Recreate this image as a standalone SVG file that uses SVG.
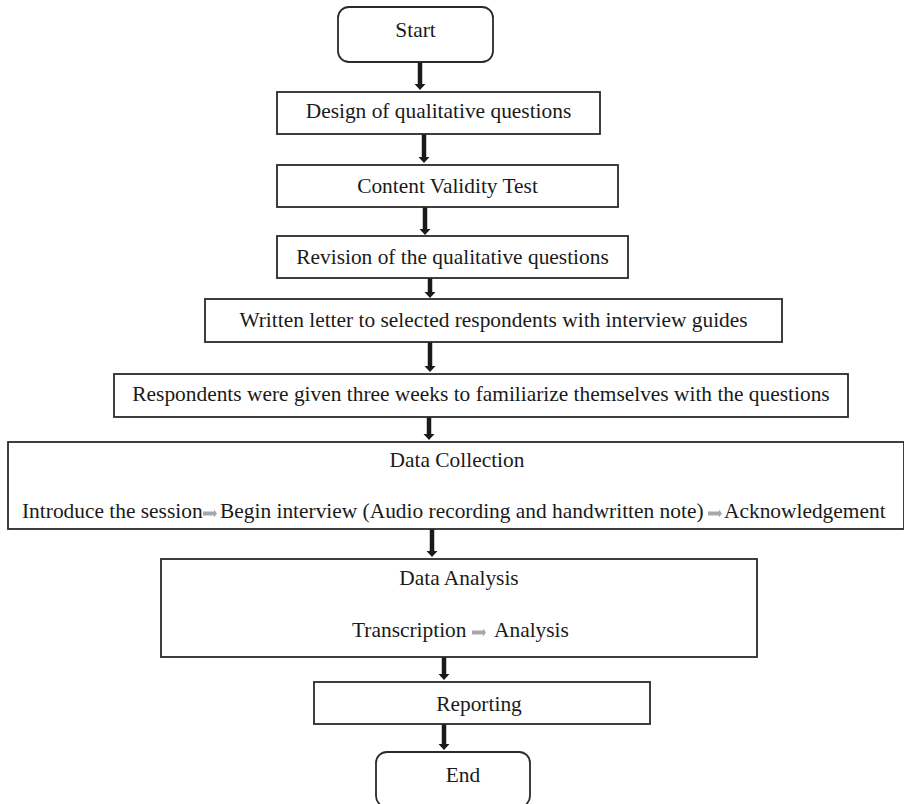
<svg xmlns="http://www.w3.org/2000/svg" width="904" height="804" viewBox="0 0 904 804">
<defs>
<style>
.box{fill:#fff;stroke:#2a2a2a;stroke-width:1.8}
.t{font-family:"Liberation Serif","Times New Roman",serif;font-size:21.4px;fill:#1a1a1a}
.c{text-anchor:middle}
.conn{stroke:#1a1a1a;stroke-width:4.5;fill:none}
.garrow{fill:#a8a8a8}
</style>
<marker id="ah" markerUnits="userSpaceOnUse" markerWidth="8" markerHeight="12" refX="1" refY="5.5" orient="auto">
<path d="M0,0 L6,5.5 L0,11 z" fill="#1a1a1a"/>
</marker>
<symbol id="ga" overflow="visible">
<path d="M0,-2 L11,-2 L11,-4 L14,0 L11,4 L11,2 L0,2 z"/>
</symbol>
</defs>
<rect width="904" height="804" fill="#fff"/>

<g id="connectors">
<line class="conn" x1="420" y1="62" x2="420" y2="85" marker-end="url(#ah)"/>
<line class="conn" x1="424" y1="134" x2="424" y2="158" marker-end="url(#ah)"/>
<line class="conn" x1="425" y1="207" x2="425" y2="230" marker-end="url(#ah)"/>
<line class="conn" x1="430" y1="278" x2="430" y2="293" marker-end="url(#ah)"/>
<line class="conn" x1="430" y1="342" x2="430" y2="367" marker-end="url(#ah)"/>
<line class="conn" x1="429" y1="417" x2="429" y2="435" marker-end="url(#ah)"/>
<line class="conn" x1="432" y1="529" x2="432" y2="552" marker-end="url(#ah)"/>
<line class="conn" x1="444" y1="657" x2="444" y2="675" marker-end="url(#ah)"/>
<line class="conn" x1="444" y1="724" x2="444" y2="745" marker-end="url(#ah)"/>
</g>

<g id="start">
<rect class="box" x="338" y="7" width="155" height="55" rx="11"/>
<text class="t c" x="415.5" y="37">Start</text>
</g>
<g id="design">
<rect class="box" x="277" y="92" width="323" height="42"/>
<text class="t c" x="438.5" y="118">Design of qualitative questions</text>
</g>
<g id="validity">
<rect class="box" x="277" y="165" width="341" height="42"/>
<text class="t c" x="447.5" y="193">Content Validity Test</text>
</g>
<g id="revision">
<rect class="box" x="277" y="236" width="351" height="42"/>
<text class="t c" x="452.5" y="264">Revision of the qualitative questions</text>
</g>
<g id="letter">
<rect class="box" x="205" y="299" width="577" height="43"/>
<text class="t c" x="493.5" y="327">Written letter to selected respondents with interview guides</text>
</g>
<g id="respondents">
<rect class="box" x="114" y="374" width="734" height="43"/>
<text class="t c" x="481" y="401">Respondents were given three weeks to familiarize themselves with the questions</text>
</g>
<g id="collection">
<rect class="box" x="8" y="442" width="896" height="87"/>
<text class="t c" x="457" y="467">Data Collection</text>
<text class="t" x="22" y="518">Introduce the session</text>
<use href="#ga" class="garrow" x="203" y="513.5"/>
<text class="t" x="220" y="518">Begin interview (Audio recording and handwritten note)</text>
<use href="#ga" class="garrow" x="708" y="513.5"/>
<text class="t" x="724" y="518">Acknowledgement</text>
</g>
<g id="analysis">
<rect class="box" x="161" y="559" width="596" height="98"/>
<text class="t c" x="459" y="585">Data Analysis</text>
<text class="t" x="352" y="637">Transcription</text>
<use href="#ga" class="garrow" x="472" y="632.5"/>
<text class="t" x="494" y="637">Analysis</text>
</g>
<g id="reporting">
<rect class="box" x="314" y="682" width="336" height="42"/>
<text class="t c" x="479" y="711">Reporting</text>
</g>
<g id="end">
<rect class="box" x="376" y="752" width="154" height="55" rx="11"/>
<text class="t c" x="463" y="782">End</text>
</g>
</svg>
